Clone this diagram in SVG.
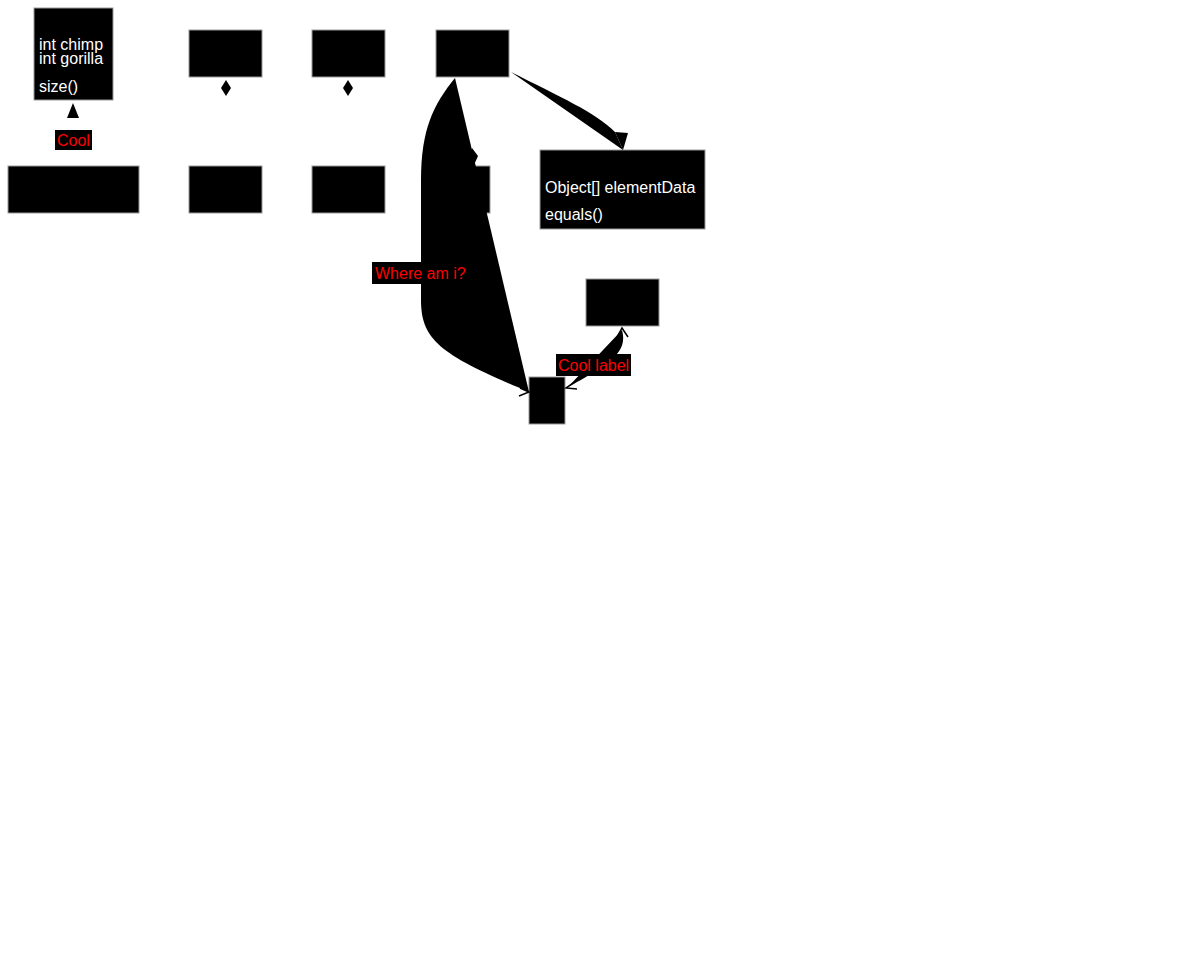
<svg xmlns="http://www.w3.org/2000/svg" width="1200" height="967" viewBox="0 0 1200 967">
<style>
.box{fill:#000;stroke:#999;stroke-width:1}
.t{font-family:"Liberation Sans",Arial,sans-serif;font-size:16px;fill:#fff}
.lbl{font-family:"Liberation Sans",Arial,sans-serif;font-size:16px;fill:#f00}
.lblbg{fill:#000}
.edge{fill:#000;stroke:none}
.open{fill:none;stroke:#000;stroke-width:1.5}
</style>
<rect width="1200" height="967" fill="#fff"/>
<g id="nodeA">
<rect class="box" x="34" y="8" width="79" height="92"/>
<text class="t" x="39" y="50">int chimp</text>
<text class="t" x="39" y="64">int gorilla</text>
<text class="t" x="39" y="92">size()</text>
</g>
<g id="nodeB"><rect class="box" x="8" y="166" width="131" height="47"/></g>
<g id="nodeC"><rect class="box" x="189" y="30" width="73" height="47"/></g>
<g id="nodeD"><rect class="box" x="189" y="166" width="73" height="47"/></g>
<g id="nodeE"><rect class="box" x="312" y="30" width="73" height="47"/></g>
<g id="nodeF"><rect class="box" x="312" y="166" width="73" height="47"/></g>
<g id="nodeG"><rect class="box" x="436" y="30" width="73" height="47"/></g>
<g id="nodeH"><rect class="box" x="436" y="166" width="54" height="47"/></g>
<g id="nodeI">
<rect class="box" x="540" y="150" width="165" height="79"/>
<text class="t" x="545" y="193">Object[] elementData</text>
<text class="t" x="545" y="220">equals()</text>
</g>
<g id="nodeJ"><rect class="box" x="586" y="279" width="73" height="47"/></g>
<g id="nodeK"><rect class="box" x="529" y="377" width="36" height="47"/></g>
<g id="connectors">
<polygon class="edge" points="73,103 79,118 67,118"/>
<polygon class="edge" points="226,80 231,88 226,96 221,88"/>
<polygon class="edge" points="348,80 353,88 348,96 343,88"/>
<polygon class="edge" points="472,148 478,156 474,165 468,157"/>
<path class="edge" d="M455,78 C433,105 421,130 421,180 L421,300 C421,340 440,355 529,392 Z"/>
<path class="open" d="M519,396 L529,392 L520,388"/>
<path class="edge" d="M511,72 C560,97 595,112 615,132 L623,150 Z"/>
<polygon class="edge" points="615,132 628,133 623,150"/>
<path class="edge" d="M622,330 C626,345 620,355 600,368 C585,378 575,383 567,388 Z"/>
<path class="open" d="M576,381 L566,388 L577,389"/>
<path class="open" d="M617,337 L622,328 L628,337"/>
<rect class="lblbg" x="55" y="130" width="37" height="20"/>
<text class="lbl" x="57" y="146">Cool</text>
<rect class="lblbg" x="372" y="262" width="95" height="22"/>
<text class="lbl" x="375" y="279">Where am i?</text>
<rect class="lblbg" x="556" y="354" width="75" height="22"/>
<text class="lbl" x="558" y="371">Cool label</text>
</g>
</svg>
